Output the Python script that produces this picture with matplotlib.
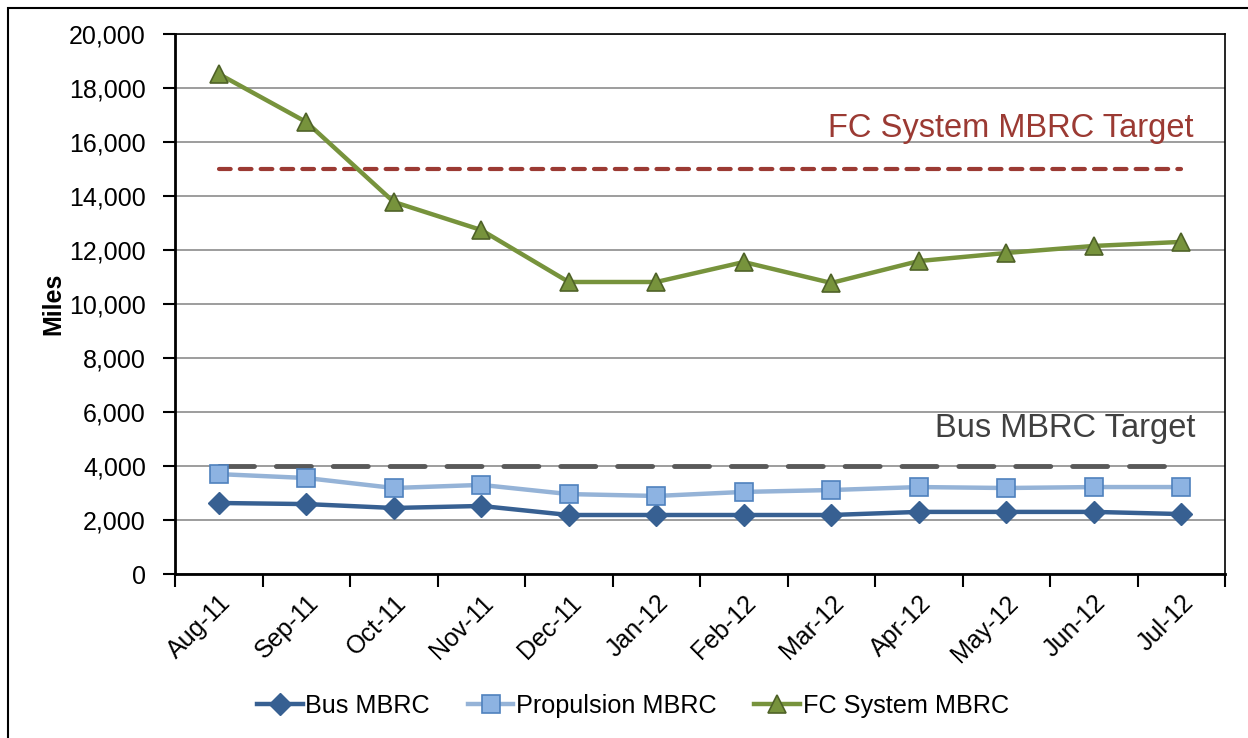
import numpy as np
import matplotlib.pyplot as plt
from matplotlib.patches import Rectangle
from matplotlib.ticker import FuncFormatter

plt.rcParams['font.family'] = ['Liberation Sans', 'DejaVu Sans']

months = ['Aug-11', 'Sep-11', 'Oct-11', 'Nov-11', 'Dec-11', 'Jan-12',
          'Feb-12', 'Mar-12', 'Apr-12', 'May-12', 'Jun-12', 'Jul-12']
bus_mbrc = [2630, 2590, 2445, 2520, 2185, 2185, 2185, 2185, 2300, 2300, 2300, 2220]
prop_mbrc = [3700, 3555, 3185, 3300, 2960, 2890, 3040, 3110, 3220, 3185, 3220, 3220]
fc_mbrc = [18520, 16740, 13780, 12740, 10815, 10815, 11555, 10780, 11590, 11890, 12150, 12300]
fc_target = 15000
bus_target = 4000

x = np.arange(len(months))

fig = plt.figure(figsize=(12.48, 7.38), dpi=100)
ax = fig.add_axes([175/1248, 1-574/738, (1225-175)/1248, (574-34)/738])

# border round the chart (only left and top are inside the picture)
fig.patches.append(Rectangle((8/1248, -0.1), 1.2, 1-8/738+0.1,
                             transform=fig.transFigure, fill=False,
                             edgecolor='black', linewidth=1.5, clip_on=False))

ax.set_ylim(0, 20000)
ax.set_xlim(-0.5, len(months)-0.5)
ax.yaxis.grid(True, color='#8c8c8c', linewidth=1.2)
ax.set_axisbelow(True)

# targets
ax.plot(x, [fc_target]*len(x), color='#9b3a33', linestyle=(0, (2.8, 2.2)),
        linewidth=3, dash_capstyle='round', zorder=2)
ax.plot(x, [bus_target]*len(x), color='#595959', linestyle=(0, (7.2, 4.5)),
        linewidth=3.5, dash_capstyle='round', zorder=2)

ax.plot(x, bus_mbrc, color='#376092', linewidth=3.2, marker='D', markersize=11,
        markerfacecolor='#376092', markeredgecolor='#376092', label='Bus MBRC', zorder=3)
ax.plot(x, prop_mbrc, color='#95b3d7', linewidth=3.2, marker='s', markersize=13,
        markerfacecolor='#8db3e2', markeredgecolor='#4f81bd', markeredgewidth=1.2,
        label='Propulsion MBRC', zorder=3)
ax.plot(x, fc_mbrc, color='#77933c', linewidth=3.2, marker='^', markersize=13,
        markerfacecolor='#77933c', markeredgecolor='#4f6228', markeredgewidth=1.2,
        label='FC System MBRC', zorder=4)

ax.text(11.14, 16500, 'FC System MBRC Target', color='#9b3a33', fontsize=23.5,
        ha='right', va='center')
ax.text(11.16, 5400, 'Bus MBRC Target', color='#404040', fontsize=23.5,
        ha='right', va='center')

ax.set_yticks(np.arange(0, 20001, 2000))
ax.yaxis.set_major_formatter(FuncFormatter(lambda v, p: f'{int(v):,}'))
ax.tick_params(axis='y', labelsize=18, length=9, width=1.5, direction='out', pad=12)

ax.set_xticks(np.arange(-0.5, len(months), 1))
ax.set_xticklabels([])
ax.set_xticks(x, minor=True)
ax.set_xticklabels(months, minor=True, rotation=45, ha='right',
                   rotation_mode='anchor', fontsize=18)
ax.tick_params(axis='x', which='major', length=9, width=1.5, direction='out')
ax.tick_params(axis='x', which='minor', length=0, pad=12)

for s in ['top', 'right']:
    ax.spines[s].set_color('#000000')
    ax.spines[s].set_linewidth(1.2)
for s in ['left', 'bottom']:
    ax.spines[s].set_linewidth(2)

ax.set_ylabel('Miles', fontsize=18, fontweight='bold', labelpad=3)

fig.legend(loc='center', bbox_to_anchor=(633/1248, 1-706/738), ncol=3,
           frameon=False, fontsize=18.2, handlelength=1.8, handletextpad=0.1,
           columnspacing=1.5)

fig.savefig('out.png', dpi=100)
